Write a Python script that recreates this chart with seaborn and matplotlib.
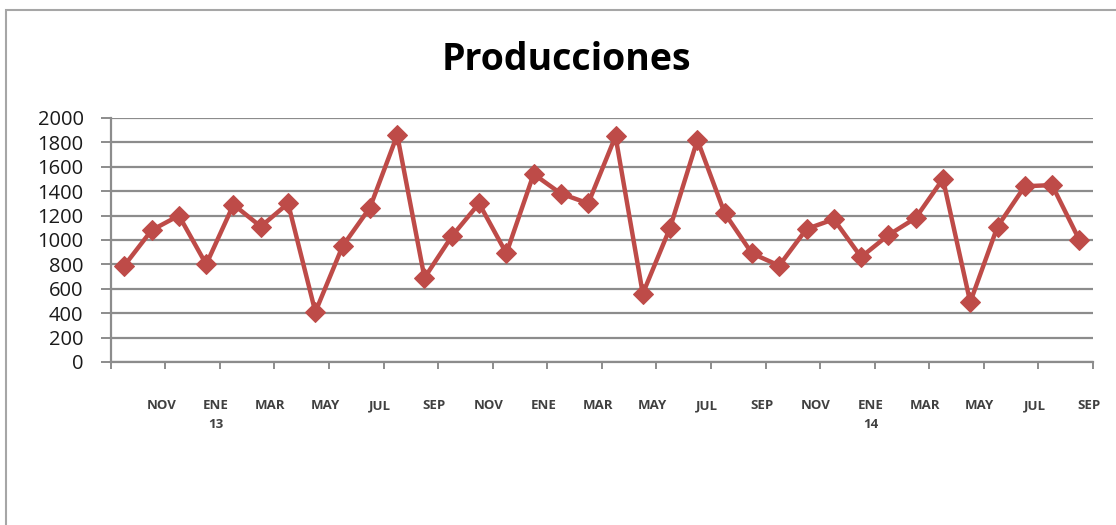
import numpy as np
import pandas as pd
import matplotlib
matplotlib.use("Agg")
import matplotlib.pyplot as plt
import matplotlib.transforms as mtransforms
import seaborn as sns
from matplotlib.patches import Rectangle

sns.set_theme(style="white")
plt.rcParams['font.family'] = ['Open Sans', 'DejaVu Sans']

# Data
months = ["OCT", "NOV", "DIC", "ENE", "FEB", "MAR", "ABR", "MAY", "JUN", "JUL", "AGO", "SEP",
          "OCT", "NOV", "DIC", "ENE", "FEB", "MAR", "ABR", "MAY", "JUN", "JUL", "AGO", "SEP",
          "OCT", "NOV", "DIC", "ENE", "FEB", "MAR", "ABR", "MAY", "JUN", "JUL", "AGO", "SEP"]
produccion = [790, 1080, 1200, 800, 1290, 1110, 1300, 410, 950, 1265, 1860, 690,
              1030, 1300, 890, 1540, 1380, 1300, 1850, 560, 1100, 1820, 1220, 890,
              790, 1090, 1170, 860, 1040, 1180, 1500, 490, 1110, 1440, 1450, 1000]
tick_labels = ["", "NOV", "ENE\n13", "MAR", "MAY", "JUL", "SEP", "NOV", "ENE", "MAR",
               "MAY", "JUL", "SEP", "NOV", "ENE\n14", "MAR", "MAY", "JUL", "SEP"]
yticks = [0, 200, 400, 600, 800, 1000, 1200, 1400, 1600, 1800, 2000]

df = pd.DataFrame({"idx": np.arange(len(produccion)), "mes": months, "valor": produccion})

fig = plt.figure(figsize=(11.16, 5.25), dpi=100)
fig.patch.set_facecolor("white")
ax = fig.add_axes([0.0992, 0.3105, 0.8802, 0.4648])

grid_c = "#8c8c8c"
for yv in yticks:
    ax.axhline(yv, color=grid_c, lw=1.6, zorder=0)

red = "#BE4B48"
sns.lineplot(data=df, x="idx", y="valor", ax=ax, color=red, lw=3.2,
             marker="D", markersize=10.5, markeredgecolor=red, markerfacecolor=red,
             zorder=3)

ax.set_xlim(-0.5, len(produccion) - 0.5)
ax.set_ylim(0, 2000)
ax.set_yticks(yticks)
ax.set_yticklabels([str(v) for v in yticks], fontsize=14.5, color="#1a1a1a")
xt = np.arange(-0.5, len(produccion), 2)
ax.set_xticks(xt)
ax.set_xticklabels(tick_labels, fontsize=9.5, color="#404040", fontweight="bold",
                   linespacing=1.55, va="top")
ax.tick_params(axis="y", which="major", left=True, length=7, width=1.4, color=grid_c, pad=12.5)
ax.tick_params(axis="x", which="major", bottom=True, length=5, width=1.4, color=grid_c, pad=22)
ax.set_xlabel("")
ax.set_ylabel("")
for s in ["top", "right"]:
    ax.spines[s].set_visible(False)
ax.spines["left"].set_color(grid_c)
ax.spines["left"].set_linewidth(1.6)
ax.spines["bottom"].set_color(grid_c)
ax.spines["bottom"].set_linewidth(1.6)
for lbl in ax.get_yticklabels():
    lbl.set_horizontalalignment("right")
shift = mtransforms.ScaledTranslation(-4 / 100, 0, fig.dpi_scale_trans)
for lbl in ax.get_xticklabels():
    lbl.set_transform(lbl.get_transform() + shift)

fig.text(566 / 1116, 1 - 60 / 525, "Producciones", ha="center", va="center",
         fontsize=27, fontweight="bold", color="black")

# chart frame
fig.patches.append(Rectangle((6 / 1116, -0.1), 1.2, 1 - 10 / 525 + 0.1,
                             transform=fig.transFigure, fill=False,
                             edgecolor="#a6a6a6", lw=1.5))

fig.savefig("out.png", dpi=100)
